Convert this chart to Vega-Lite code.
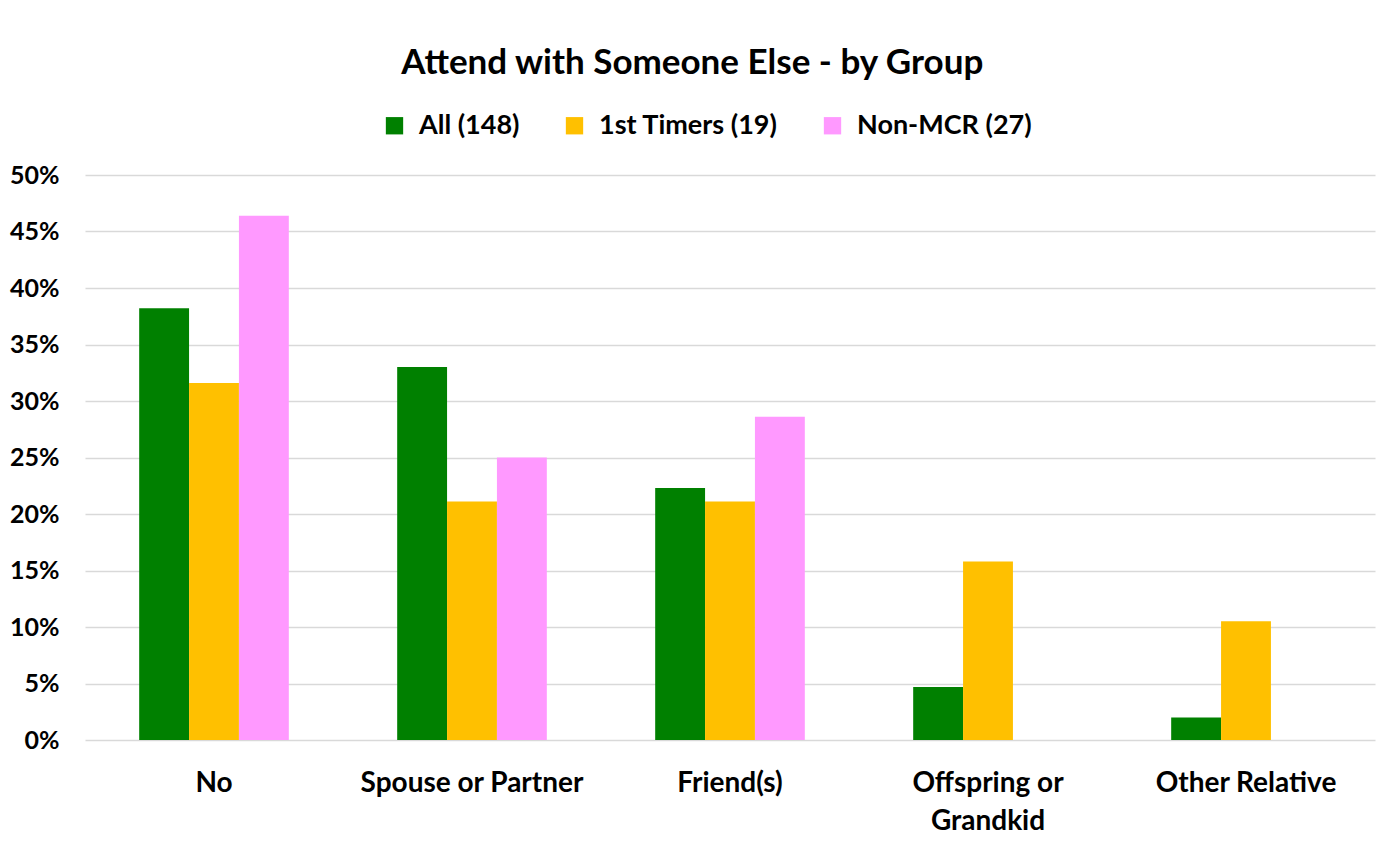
{
  "$schema": "https://vega.github.io/schema/vega-lite/v6.json",
  "width": 1290,
  "height": 565,
  "autosize": "none",
  "padding": {"left": 85, "top": 175, "right": 22, "bottom": 108},
  "background": "white",
  "title": {
    "text": "Attend with Someone Else - by Group",
    "font": "Lato",
    "fontSize": 35,
    "fontWeight": "bold",
    "color": "#000000",
    "anchor": "middle",
    "frame": "bounds",
    "offset": 31
  },
  "data": {
    "values": [
      {"category": "No", "group": "All (148)", "value": 0.382},
      {"category": "No", "group": "1st Timers (19)", "value": 0.316},
      {"category": "No", "group": "Non-MCR (27)", "value": 0.464},
      {"category": "Spouse or Partner", "group": "All (148)", "value": 0.33},
      {"category": "Spouse or Partner", "group": "1st Timers (19)", "value": 0.211},
      {"category": "Spouse or Partner", "group": "Non-MCR (27)", "value": 0.25},
      {"category": "Friend(s)", "group": "All (148)", "value": 0.223},
      {"category": "Friend(s)", "group": "1st Timers (19)", "value": 0.211},
      {"category": "Friend(s)", "group": "Non-MCR (27)", "value": 0.286},
      {"category": "Offspring or Grandkid", "group": "All (148)", "value": 0.047},
      {"category": "Offspring or Grandkid", "group": "1st Timers (19)", "value": 0.158},
      {"category": "Offspring or Grandkid", "group": "Non-MCR (27)", "value": 0},
      {"category": "Other Relative", "group": "All (148)", "value": 0.02},
      {"category": "Other Relative", "group": "1st Timers (19)", "value": 0.105},
      {"category": "Other Relative", "group": "Non-MCR (27)", "value": 0}
    ]
  },
  "mark": {"type": "bar"},
  "encoding": {
    "x": {
      "field": "category",
      "type": "nominal",
      "sort": ["No", "Spouse or Partner", "Friend(s)", "Offspring or Grandkid", "Other Relative"],
      "scale": {"paddingInner": 0.42, "paddingOuter": 0.21},
      "axis": {
        "title": null,
        "labelAngle": 0,
        "labelFont": "Lato",
        "labelFontSize": 28,
        "labelFontWeight": "bold",
        "labelColor": "#000000",
        "labelPadding": 29,
        "labelLineHeight": 38,
        "labelLimit": 0,
        "labelExpr": "datum.label == 'Offspring or Grandkid' ? ['Offspring or', 'Grandkid'] : datum.label",
        "domain": false,
        "ticks": false,
        "grid": false
      }
    },
    "xOffset": {
      "field": "group",
      "type": "nominal",
      "sort": ["All (148)", "1st Timers (19)", "Non-MCR (27)"],
      "scale": {"paddingInner": 0, "paddingOuter": 0}
    },
    "y": {
      "field": "value",
      "type": "quantitative",
      "scale": {"domain": [0, 0.5], "nice": false},
      "axis": {
        "title": null,
        "format": ".0%",
        "values": [0, 0.05, 0.1, 0.15, 0.2, 0.25, 0.3, 0.35, 0.4, 0.45, 0.5],
        "labelFont": "Lato",
        "labelFontSize": 25,
        "labelFontWeight": "bold",
        "labelColor": "#000000",
        "labelPadding": 26,
        "domain": false,
        "ticks": false,
        "grid": true,
        "gridColor": "#d9d9d9",
        "gridWidth": 1.5
      }
    },
    "color": {
      "field": "group",
      "type": "nominal",
      "sort": ["All (148)", "1st Timers (19)", "Non-MCR (27)"],
      "scale": {
        "domain": ["All (148)", "1st Timers (19)", "Non-MCR (27)"],
        "range": ["#008000", "#FFC000", "#FF99FF"]
      },
      "legend": {
        "title": null,
        "orient": "none",
        "direction": "horizontal",
        "legendX": 296,
        "legendY": -63,
        "symbolType": "square",
        "symbolSize": 300,
        "symbolStrokeWidth": 0,
        "labelFont": "Lato",
        "labelFontSize": 27,
        "labelFontWeight": "bold",
        "labelColor": "#000000",
        "labelOffset": 11,
        "labelLimit": 0,
        "columnPadding": 41
      }
    }
  },
  "config": {
    "view": {"stroke": null}
  }
}
